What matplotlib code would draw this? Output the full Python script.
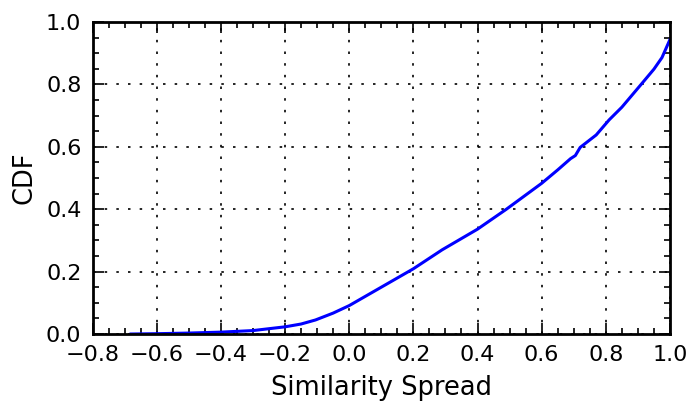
import matplotlib
matplotlib.use("Agg")
import matplotlib.pyplot as plt
from matplotlib.ticker import MultipleLocator

# Empirical CDF of similarity spread
spread = [-0.68, -0.6, -0.5, -0.4, -0.3, -0.2, -0.15, -0.105, -0.05, 0.0,
          0.1, 0.2, 0.29, 0.37, 0.4, 0.49, 0.6, 0.65, 0.69, 0.705, 0.72,
          0.77, 0.81, 0.85, 0.91, 0.95, 0.975, 1.0]
cdf = [0.0, 0.001, 0.003, 0.006, 0.011, 0.023, 0.032, 0.045, 0.067, 0.091,
       0.15, 0.209, 0.27, 0.318, 0.336, 0.4, 0.483, 0.526, 0.562, 0.572, 0.598,
       0.638, 0.686, 0.727, 0.80, 0.849, 0.886, 0.944]

fig = plt.figure(figsize=(6.92, 4.03), dpi=100)
ax = fig.add_axes([0.1337, 0.1712, 0.8345, 0.7742])

ax.plot(spread, cdf, color="#0000ff", linewidth=2.2)

ax.set_xlim(-0.8, 1.0)
ax.set_ylim(0.0, 1.0)
ax.xaxis.set_major_locator(MultipleLocator(0.2))
ax.xaxis.set_minor_locator(MultipleLocator(0.05))
ax.yaxis.set_major_locator(MultipleLocator(0.2))
ax.yaxis.set_minor_locator(MultipleLocator(0.05))

ax.tick_params(which="both", direction="in", top=True, right=True,
               labelsize=16, width=1.2, pad=8)
ax.tick_params(which="major", length=8)
ax.tick_params(which="minor", length=4)
for s in ax.spines.values():
    s.set_linewidth(2)

ax.grid(True, which="major", color="black", linestyle=(0, (1.5, 5.5)), linewidth=1.2)

ax.set_xlabel("Similarity Spread", fontsize=18.5, labelpad=7)
ax.set_ylabel("CDF", fontsize=18.5, labelpad=6)

fig.savefig("out.png", dpi=100)
